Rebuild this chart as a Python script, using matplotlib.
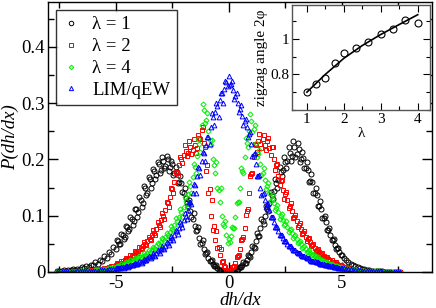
import numpy as np
import matplotlib
matplotlib.use("Agg")
import matplotlib.pyplot as plt
from matplotlib.ticker import MultipleLocator

plt.rcParams['font.family'] = ['Liberation Serif', 'DejaVu Serif']
plt.rcParams['mathtext.fontset'] = 'stix'

# ---------------- data ----------------
# run A: full slope grid, step 0.1
slope_grid = np.round(np.arange(-7.6, 7.65, 0.1), 2)

p_lambda1 = [
 0.001,0.002,0.001,0.003,0.002,0.004,0.003,0.005,0.004,0.006,0.005,0.008,0.007,0.010,0.009,0.013,
 0.012,0.017,0.015,0.022,0.020,0.028,0.025,0.035,0.032,0.044,0.041,0.055,0.050,0.066,0.062,0.080,
 0.076,0.095,0.090,0.112,0.106,0.128,0.122,0.150,0.140,0.165,0.158,0.180,0.172,0.192,0.182,0.197,
 0.188,0.200,0.186,0.192,0.176,0.178,0.160,0.158,0.140,0.132,0.118,0.108,0.094,0.082,0.074,0.060,
 0.052,0.040,0.034,0.025,0.020,0.014,0.010,0.007,0.004,0.0025,0.001,0.0004,
 0.0,
 0.0004,0.0012,0.003,0.005,0.008,0.012,0.016,0.022,0.028,0.036,0.044,0.055,0.064,0.078,0.090,0.100,
 0.112,0.122,0.136,0.144,0.158,0.164,0.178,0.182,0.196,0.198,0.212,0.206,0.222,0.210,0.218,0.200,
 0.202,0.184,0.182,0.162,0.160,0.140,0.136,0.118,0.112,0.096,0.088,0.074,0.066,0.056,0.048,0.042,
 0.035,0.030,0.025,0.021,0.018,0.015,0.012,0.010,0.008,0.0065,0.0055,0.0045,0.0038,0.003,0.0025,
 0.002,0.0017,0.0014,0.0011,0.0009,0.0007,0.0006,0.0005,0.0004,0.0003,0.0003,0.0002,0.0002]

p_lambda2 = [
 0.0003,0.0004,0.0004,0.0005,0.0006,0.0006,0.0008,0.0009,0.0010,0.0012,0.0014,0.0016,0.0019,0.0022,
 0.0026,0.0030,0.0034,0.0040,0.0046,0.0052,0.0060,0.0068,0.0078,0.0090,0.010,0.011,0.013,0.014,
 0.016,0.019,0.021,0.023,0.025,0.029,0.031,0.035,0.038,0.042,0.046,0.050,0.055,0.059,0.065,0.070,
 0.077,0.084,0.092,0.100,0.110,0.122,0.134,0.148,0.160,0.176,0.190,0.200,0.208,0.215,0.212,0.222,
 0.216,0.226,0.220,0.238,0.252,0.230,0.180,0.140,0.100,0.075,0.056,0.042,0.030,0.018,0.010,0.004,
 0.002,
 0.004,0.009,0.016,0.028,0.040,0.058,0.078,0.108,0.140,0.175,0.205,0.225,0.232,0.228,0.236,0.226,
 0.232,0.220,0.222,0.200,0.190,0.170,0.162,0.145,0.138,0.128,0.118,0.108,0.098,0.090,0.084,0.076,
 0.070,0.063,0.058,0.053,0.048,0.043,0.039,0.035,0.032,0.029,0.026,0.023,0.020,0.018,0.016,0.014,
 0.012,0.010,0.009,0.008,0.0068,0.0058,0.0050,0.0043,0.0036,0.0031,0.0026,0.0022,0.0019,0.0016,
 0.0014,0.0012,0.0010,0.0009,0.0008,0.0007,0.0006,0.0005,0.0004,0.0004,0.0003,0.0003,0.0002,0.0002]

p_lambda4 = [
 0.0002,0.0002,0.0003,0.0003,0.0004,0.0004,0.0005,0.0006,0.0007,0.0008,0.0009,0.0011,0.0013,0.0015,
 0.0017,0.0020,0.0023,0.0027,0.0031,0.0036,0.0041,0.0047,0.0054,0.0062,0.0071,0.0080,0.0090,0.010,
 0.011,0.013,0.014,0.016,0.017,0.019,0.021,0.023,0.025,0.027,0.029,0.031,0.034,0.036,0.039,0.042,
 0.046,0.050,0.054,0.058,0.062,0.066,0.071,0.077,0.083,0.090,0.098,0.106,0.116,0.126,0.138,0.152,
 0.168,0.186,0.206,0.228,0.262,0.288,0.270,0.250,0.226,0.200,0.176,0.150,0.125,0.100,0.082,0.066,
 0.058,
 0.064,0.078,0.098,0.125,0.150,0.180,0.205,0.230,0.250,0.268,0.255,0.230,0.210,0.192,0.176,0.164,
 0.152,0.140,0.130,0.122,0.114,0.106,0.099,0.092,0.086,0.080,0.074,0.069,0.064,0.058,0.053,0.049,
 0.045,0.041,0.038,0.034,0.031,0.028,0.026,0.023,0.021,0.019,0.017,0.015,0.014,0.012,0.011,0.0098,
 0.0087,0.0077,0.0068,0.0060,0.0053,0.0047,0.0041,0.0036,0.0032,0.0028,0.0024,0.0021,0.0018,0.0016,
 0.0014,0.0012,0.0010,0.0009,0.0008,0.0007,0.0006,0.0005,0.0004,0.0004,0.0003,0.0003,0.0002,0.0002]

p_lim_qew = [
 0.0003,0.0003,0.0004,0.0004,0.0005,0.0005,0.0006,0.0007,0.0008,0.0009,0.0010,0.0011,0.0013,0.0014,
 0.0016,0.0018,0.0020,0.0023,0.0026,0.0029,0.0032,0.0036,0.0040,0.0045,0.0050,0.0056,0.0062,0.0069,
 0.0076,0.0084,0.0093,0.010,0.011,0.012,0.014,0.015,0.016,0.018,0.020,0.022,0.024,0.026,0.028,0.031,
 0.034,0.037,0.040,0.043,0.047,0.051,0.056,0.061,0.066,0.072,0.078,0.085,0.092,0.100,0.110,0.124,
 0.140,0.155,0.170,0.184,0.198,0.212,0.226,0.240,0.258,0.275,0.285,0.295,0.305,0.318,0.326,0.338,
 0.348,
 0.335,0.324,0.312,0.300,0.290,0.278,0.268,0.258,0.245,0.228,0.210,0.192,0.170,0.150,0.138,0.128,
 0.120,0.110,0.098,0.088,0.080,0.072,0.066,0.060,0.055,0.050,0.046,0.042,0.039,0.036,0.033,0.030,
 0.028,0.026,0.024,0.022,0.020,0.019,0.017,0.016,0.015,0.014,0.013,0.012,0.011,0.010,0.0092,0.0084,
 0.0076,0.0069,0.0062,0.0056,0.0050,0.0045,0.0040,0.0036,0.0032,0.0028,0.0025,0.0022,0.0019,0.0017,
 0.0015,0.0013,0.0011,0.0010,0.0009,0.0008,0.0007,0.0006,0.0005,0.0004,0.0004,0.0003,0.0003,0.0003]

# run B: central slope grid, offset by half a step
slope_grid_b = np.round(np.concatenate([np.linspace(-4.95, -0.05, 50),
                                        np.linspace(0.05, 4.95, 50)]), 2)

p_lambda1_b = [
 0.056,0.050,0.068,0.058,0.082,0.072,0.097,0.083,0.112,0.098,
 0.134,0.115,0.152,0.136,0.168,0.150,0.183,0.166,0.196,0.176,
 0.205,0.184,0.206,0.180,0.198,0.172,0.186,0.158,0.170,0.142,
 0.150,0.122,0.128,0.098,0.104,0.072,0.080,0.050,0.056,0.032,
 0.036,0.019,0.022,0.010,0.012,0.004,0.004,0.001,0.0009,0.0001,
 0.0002,0.0004,0.003,0.003,0.009,0.008,0.018,0.016,0.030,0.027,
 0.047,0.043,0.069,0.064,0.095,0.086,0.118,0.108,0.143,0.130,
 0.166,0.150,0.186,0.170,0.204,0.184,0.222,0.198,0.232,0.204,
 0.230,0.196,0.214,0.184,0.196,0.160,0.174,0.140,0.150,0.118,
 0.126,0.096,0.100,0.075,0.078,0.056,0.058,0.041,0.042,0.030]

p_lambda2_b = [
 0.016,0.013,0.020,0.016,0.025,0.021,0.030,0.027,0.037,0.033,
 0.044,0.040,0.053,0.048,0.063,0.056,0.074,0.066,0.088,0.080,
 0.104,0.094,0.124,0.116,0.150,0.140,0.178,0.172,0.204,0.194,
 0.226,0.206,0.232,0.210,0.236,0.212,0.244,0.236,0.258,0.222,
 0.190,0.148,0.128,0.082,0.072,0.045,0.040,0.020,0.009,0.002,
 0.001,0.009,0.010,0.026,0.030,0.056,0.062,0.102,0.112,0.170,
 0.176,0.228,0.214,0.246,0.220,0.244,0.216,0.238,0.208,0.222,
 0.182,0.192,0.154,0.164,0.130,0.143,0.114,0.122,0.096,0.102,
 0.080,0.087,0.067,0.072,0.055,0.060,0.046,0.049,0.038,0.040,
 0.030,0.033,0.024,0.026,0.019,0.021,0.015,0.017,0.012,0.012]

p_lambda4_b = [
 0.011,0.009,0.014,0.012,0.017,0.014,0.021,0.018,0.025,0.021,
 0.029,0.025,0.034,0.029,0.039,0.034,0.045,0.040,0.052,0.047,
 0.061,0.055,0.070,0.062,0.082,0.072,0.096,0.084,0.112,0.098,
 0.134,0.116,0.160,0.140,0.192,0.176,0.236,0.214,0.298,0.264,
 0.282,0.234,0.234,0.190,0.196,0.146,0.150,0.086,0.090,0.052,
 0.054,0.080,0.078,0.122,0.124,0.184,0.176,0.238,0.222,0.280,
 0.248,0.262,0.204,0.216,0.172,0.184,0.148,0.158,0.126,0.136,
 0.110,0.119,0.095,0.103,0.083,0.090,0.071,0.077,0.061,0.066,
 0.051,0.055,0.043,0.047,0.036,0.039,0.030,0.032,0.025,0.026,
 0.020,0.022,0.017,0.018,0.013,0.014,0.011,0.011,0.0085,0.0088]

p_lim_qew_b = [
 0.0075,0.0064,0.009,0.0079,0.011,0.0094,0.013,0.0115,0.016,0.0138,
 0.019,0.0168,0.023,0.0205,0.028,0.0244,0.033,0.0292,0.039,0.0346,
 0.046,0.0405,0.054,0.0480,0.064,0.0570,0.075,0.0680,0.088,0.0800,
 0.104,0.0950,0.124,0.120,0.156,0.140,0.186,0.172,0.214,0.198,
 0.240,0.228,0.282,0.262,0.300,0.276,0.318,0.300,0.340,0.330,
 0.332,0.340,0.308,0.318,0.284,0.296,0.262,0.272,0.240,0.248,
 0.206,0.212,0.170,0.172,0.136,0.140,0.116,0.120,0.098,0.098,
 0.080,0.080,0.066,0.066,0.055,0.055,0.046,0.046,0.039,0.039,
 0.033,0.033,0.028,0.028,0.024,0.024,0.020,0.020,0.017,0.017,
 0.015,0.015,0.013,0.013,0.011,0.011,0.0092,0.0092,0.0077,0.0076]

series_labels = ["λ = 1", "λ = 2", "λ = 4", "LIM/qEW"]

# inset data
inset_lambda = [1.0, 1.25, 1.5, 1.75, 2.0, 2.333, 2.667, 3.0, 3.333, 3.667, 4.0]
inset_angle = [0.700, 0.746, 0.780, 0.861, 0.922, 0.950, 0.981, 1.024, 1.056, 1.103, 1.089]
fit_lambda = [1.0, 1.5, 2.0, 2.5, 3.0, 3.5, 4.0]
fit_angle = [0.700, 0.800, 0.890, 0.962, 1.024, 1.080, 1.135]

# ---------------- figure ----------------
fig = plt.figure(figsize=(4.36, 3.08), dpi=100)
ax = fig.add_axes([0.110, 0.117, 0.881, 0.8765])

styles = [
    dict(marker='o', color='black', ms=3.6),
    dict(marker='s', color='red', ms=3.2),
    dict(marker='D', color='#00ee00', ms=2.6),
    dict(marker='^', color='blue', ms=3.4),
]
runs_a = [p_lambda1, p_lambda2, p_lambda4, p_lim_qew]
runs_b = [p_lambda1_b, p_lambda2_b, p_lambda4_b, p_lim_qew_b]
for ya, yb, lab, st in zip(runs_a, runs_b, series_labels, styles):
    kw = dict(linestyle='none', marker=st['marker'], ms=st['ms'],
              mfc='none', mec=st['color'], mew=0.7)
    ax.plot(slope_grid, ya, label=lab, **kw)
    ax.plot(slope_grid_b, yb, **kw)

ax.set_xlim(-8, 9)
ax.set_ylim(0, 0.48)
ax.xaxis.set_minor_locator(MultipleLocator(2.5))
ax.yaxis.set_minor_locator(MultipleLocator(0.05))
ax.set_xticks([-5, 0, 5])
ax.set_xticklabels(['-5', '0', '5'])
ax.set_yticks([0, 0.1, 0.2, 0.3, 0.4])
ax.set_yticklabels(['0', '0.1', '0.2', '0.3', '0.4'])
ax.tick_params(which='both', direction='in', top=True, right=True, labelsize=13.5, width=1.0)
ax.tick_params(which='major', length=7, pad=2)
ax.tick_params(which='minor', length=4)
for s in ax.spines.values():
    s.set_linewidth(1.0)
ax.set_xlabel('dh/dx', fontsize=13.5, fontstyle='italic', labelpad=0)
ax.set_ylabel('P(dh/dx)', fontsize=13.5, fontstyle='italic', labelpad=2)

leg = ax.legend(loc='upper left', bbox_to_anchor=(0.01, 0.985), fontsize=13.5,
                frameon=True, fancybox=False, edgecolor='black', handlelength=1.0,
                handletextpad=0.6, borderpad=0.35, labelspacing=0.25, markerscale=0.9,
                borderaxespad=0.2)
leg.get_frame().set_linewidth(1.0)

# inset
axi = fig.add_axes([0.670, 0.643, 0.316, 0.341])
axi.plot(fit_lambda, fit_angle, color='black', lw=1.2)
axi.plot(inset_lambda, inset_angle, linestyle='none', marker='o', ms=5, mfc='none',
         mec='black', mew=0.8)
axi.set_xlim(0.6, 4.33)
axi.set_ylim(0.6, 1.19)
axi.xaxis.set_major_locator(MultipleLocator(1))
axi.xaxis.set_minor_locator(MultipleLocator(0.5))
axi.set_yticks([0.8, 1.0])
axi.set_yticklabels(['0.8', '1'])
axi.yaxis.set_minor_locator(MultipleLocator(0.1))
axi.tick_params(which='both', direction='in', top=True, right=True, labelsize=11, width=0.8)
axi.tick_params(which='major', length=5, pad=2)
axi.tick_params(which='minor', length=3)
for s in axi.spines.values():
    s.set_linewidth(1.0)
    s.set_edgecolor('#555555')
axi.set_xlabel('λ', fontsize=11, labelpad=1)
axi.set_ylabel('zigzag angle 2φ', fontsize=11, labelpad=2)

fig.savefig('out.png', dpi=100)
